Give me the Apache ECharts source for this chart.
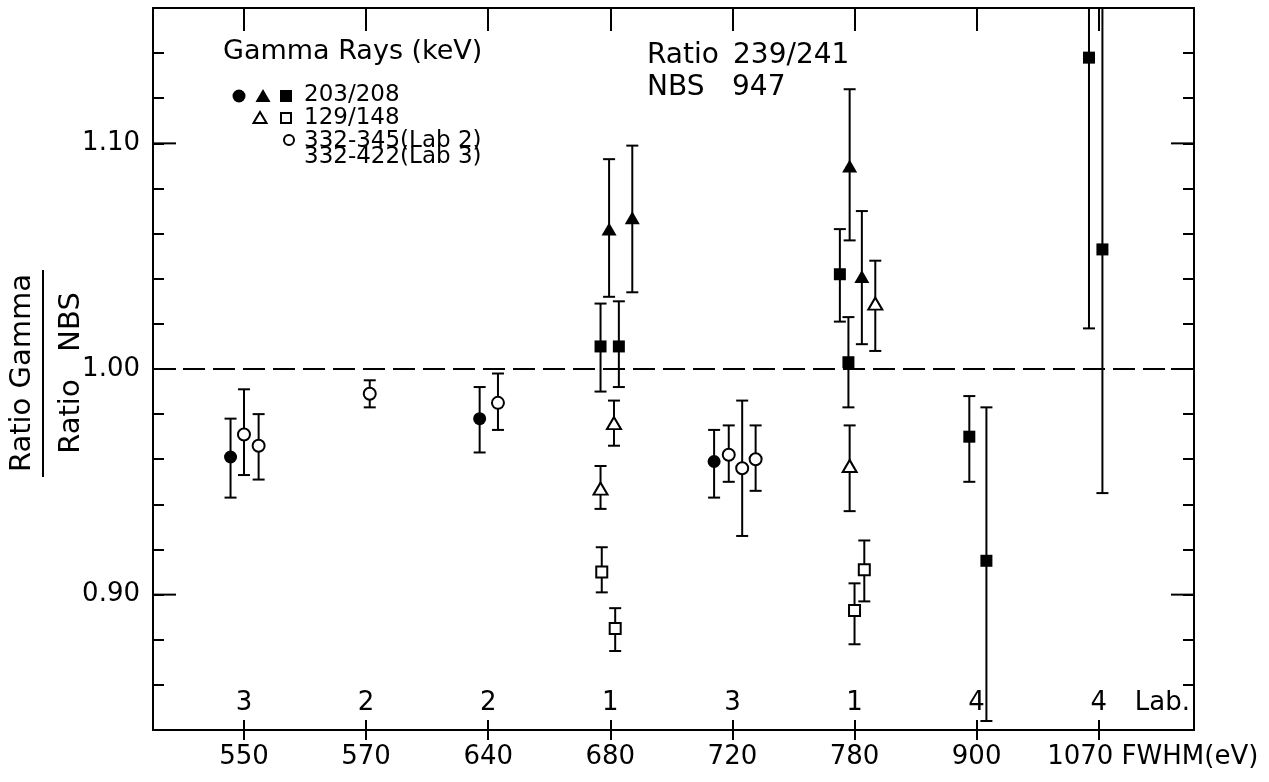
<!DOCTYPE html>
<html>
<head>
<meta charset="utf-8">
<script src="https://cdn.jsdelivr.net/npm/echarts@6/dist/echarts.min.js"></script>
<style>
  html, body { margin: 0; padding: 0; background: #fff; }
  #chart { width: 1269px; height: 782px; }
</style>
</head>
<body>
<div id="chart"></div>
<script>
// FWHM groups along the x axis and the laboratory that measured each group
const fwhm = ['550', '570', '640', '680', '720', '780', '900', '1070'];
const labs = ['3', '2', '2', '1', '3', '1', '4', '4'];
const yTickLabels = [0.90, 1.00, 1.10];
const referenceRatio = [1.00];

// Each row: [group index, offset inside the group, ratio, lower limit, upper limit]
// 203/208 keV
const filledCircle = [
  [0, -0.11, 0.961, 0.943, 0.978],
  [2, -0.07, 0.978, 0.963, 0.992],
  [4, -0.15, 0.959, 0.943, 0.973]
];
const filledTriangle = [
  [3, -0.01, 1.062, 1.032, 1.093],
  [3, 0.18, 1.067, 1.034, 1.099],
  [5, -0.04, 1.090, 1.057, 1.124],
  [5, 0.06, 1.041, 1.011, 1.070]
];
const filledSquare = [
  [3, -0.08, 1.010, 0.990, 1.029],
  [3, 0.07, 1.010, 0.992, 1.030],
  [5, -0.12, 1.042, 1.021, 1.062],
  [5, -0.05, 1.003, 0.983, 1.023],
  [6, -0.06, 0.970, 0.950, 0.988],
  [6, 0.08, 0.915, 0.844, 0.983],
  [7, -0.08, 1.138, 1.018, 1.258],
  [7, 0.03, 1.053, 0.945, 1.163]
];
// 129/148 keV
const openTriangle = [
  [3, 0.03, 0.976, 0.966, 0.986],
  [3, -0.08, 0.947, 0.938, 0.957],
  [5, 0.17, 1.029, 1.008, 1.048],
  [5, -0.04, 0.957, 0.937, 0.975]
];
const openSquare = [
  [3, -0.07, 0.910, 0.901, 0.921],
  [3, 0.04, 0.885, 0.875, 0.894],
  [5, 0.00, 0.893, 0.878, 0.905],
  [5, 0.08, 0.911, 0.897, 0.924]
];
// 332-345 keV (Lab 2), 332-422 keV (Lab 3)
const openCircle = [
  [0, 0.00, 0.971, 0.953, 0.991],
  [0, 0.12, 0.966, 0.951, 0.980],
  [1, 0.03, 0.989, 0.983, 0.995],
  [2, 0.08, 0.985, 0.973, 0.998],
  [4, -0.03, 0.962, 0.950, 0.975],
  [4, 0.08, 0.956, 0.926, 0.986],
  [4, 0.19, 0.960, 0.946, 0.975]
];

const FONT = 'DejaVu Sans';
const INK = '#000';
const X_MIN = -0.745, X_MAX = 7.78;
const Y_MIN = 0.84, Y_MAX = 1.16;
const groupTicks = fwhm.map((_, i) => i);
const line = { color: INK, width: 2 };

const chart = echarts.init(document.getElementById('chart'), null, { renderer: 'canvas' });

function errorBars(rows) {
  return {
    type: 'custom',
    silent: true,
    animation: false,
    z: 2,
    encode: { x: 0, y: [1, 2] },
    data: rows.map(r => [r[0] + r[1], r[3], r[4]]),
    renderItem(params, api) {
      const x = api.value(0);
      const lo = api.coord([x, api.value(1)]);
      const hi = api.coord([x, api.value(2)]);
      const cs = params.coordSys;
      const top = cs.y, bottom = cs.y + cs.height;
      const half = 6;
      const st = { stroke: INK, lineWidth: 2 };
      const children = [{
        type: 'line',
        shape: { x1: lo[0], y1: Math.max(hi[1], top), x2: lo[0], y2: Math.min(lo[1], bottom) },
        style: st
      }];
      if (hi[1] >= top) children.push({ type: 'line', shape: { x1: hi[0] - half, y1: hi[1], x2: hi[0] + half, y2: hi[1] }, style: st });
      if (lo[1] <= bottom) children.push({ type: 'line', shape: { x1: lo[0] - half, y1: lo[1], x2: lo[0] + half, y2: lo[1] }, style: st });
      return { type: 'group', children };
    }
  };
}

function markers(rows, symbol, size, filled) {
  return {
    type: 'scatter',
    symbol,
    symbolSize: size,
    silent: true,
    animation: false,
    z: 3,
    data: rows.map(r => [r[0] + r[1], r[2]]),
    itemStyle: filled
      ? { color: INK, borderWidth: 0, opacity: 1 }
      : { color: '#fff', borderColor: INK, borderWidth: 2, opacity: 1 }
  };
}

// Long ticks at the labelled ratios, on both vertical axes
const majorTicks = {
  type: 'custom',
  silent: true,
  animation: false,
  z: 1,
  data: yTickLabels.map(v => [X_MIN, v]),
  renderItem(params, api) {
    const cs = params.coordSys;
    const y = api.coord([api.value(0), api.value(1)])[1];
    const st = { stroke: INK, lineWidth: 2 };
    return {
      type: 'group',
      children: [
        { type: 'line', shape: { x1: cs.x, y1: y, x2: cs.x + 23, y2: y }, style: st },
        { type: 'line', shape: { x1: cs.x + cs.width - 23, y1: y, x2: cs.x + cs.width, y2: y }, style: st }
      ]
    };
  }
};

// Dashed line where the gamma ratio equals the NBS value
const referenceLine = {
  type: 'custom',
  silent: true,
  animation: false,
  z: 1,
  data: referenceRatio.map(v => [X_MIN, v]),
  renderItem(params, api) {
    const cs = params.coordSys;
    const y = api.coord([api.value(0), api.value(1)])[1];
    return {
      type: 'line',
      shape: { x1: cs.x, y1: y, x2: cs.x + cs.width, y2: y },
      style: { stroke: INK, lineWidth: 2, lineDash: [22, 8] }
    };
  }
};

// Laboratory numbers written just above the bottom axis
const labRow = {
  type: 'custom',
  silent: true,
  animation: false,
  z: 4,
  data: labs.map((l, i) => [i, Y_MIN]),
  renderItem(params, api) {
    const i = params.dataIndex;
    const p = api.coord([api.value(0), api.value(1)]);
    const y = p[1] - 27;
    const children = [{
      type: 'text',
      style: { x: p[0], y, text: labs[i], font: '26px "' + FONT + '"', fill: INK, align: 'center', verticalAlign: 'middle' }
    }];
    if (i === labs.length - 1) {
      children.push({
        type: 'text',
        style: { x: p[0] + 36, y, text: 'Lab.', font: '26px "' + FONT + '"', fill: INK, align: 'left', verticalAlign: 'middle' }
      });
    }
    return { type: 'group', children };
  }
};

function xAxisBase(extra) {
  return Object.assign({
    type: 'value', min: X_MIN, max: X_MAX,
    splitLine: { show: false },
    axisLabel: { show: false },
    axisLine: { show: false }
  }, extra);
}
function yAxisBase(extra) {
  return Object.assign({
    type: 'value', min: Y_MIN, max: Y_MAX,
    splitLine: { show: false },
    axisLabel: { show: false },
    axisLine: { show: false },
    axisTick: { show: false }
  }, extra);
}

const legendY = [95, 118, 141, 157];
const f23 = '23px "' + FONT + '"';

const option = {
  backgroundColor: '#fff',
  animation: false,
  grid: { left: 153, right: 75, top: 8, bottom: 52 },
  xAxis: [
    xAxisBase({
      position: 'bottom',
      axisLine: { show: true, onZero: false, lineStyle: line },
      axisTick: { show: true, inside: false, length: 10, lineStyle: line, customValues: groupTicks },
      axisLabel: {
        show: true,
        customValues: groupTicks,
        margin: 14,
        color: INK,
        fontFamily: FONT,
        fontSize: 26,
        formatter: v => {
          const i = Math.round(v);
          return i === fwhm.length - 1 ? '{last|' + fwhm[i] + ' FWHM(eV)}' : fwhm[i];
        },
        rich: {
          last: { padding: [0, 0, 0, 108], fontFamily: FONT, fontSize: 26, color: INK }
        }
      }
    }),
    xAxisBase({
      position: 'bottom',
      axisTick: { show: true, inside: true, length: 10, lineStyle: line, customValues: groupTicks }
    }),
    xAxisBase({
      position: 'top',
      axisLine: { show: true, onZero: false, lineStyle: line },
      axisTick: { show: true, inside: true, length: 23, lineStyle: line, customValues: groupTicks }
    })
  ],
  yAxis: [
    yAxisBase({
      position: 'left',
      interval: 0.02,
      axisLine: { show: true, onZero: false, lineStyle: line },
      axisTick: { show: true, inside: true, length: 11, lineStyle: line },
      axisLabel: {
        show: true, margin: 13,
        color: INK, fontFamily: FONT, fontSize: 26,
        formatter: v => yTickLabels.some(t => Math.abs(t - v) < 1e-6) ? v.toFixed(2) : ''
      }
    }),
    yAxisBase({
      position: 'right',
      interval: 0.02,
      axisLine: { show: true, onZero: false, lineStyle: line },
      axisTick: { show: true, inside: true, length: 11, lineStyle: line }
    })
  ],
  series: [
    referenceLine,
    majorTicks,
    errorBars(filledCircle),
    errorBars(filledTriangle),
    errorBars(filledSquare),
    errorBars(openTriangle),
    errorBars(openSquare),
    errorBars(openCircle),
    markers(filledCircle, 'circle', 13, true),
    markers(filledTriangle, 'triangle', [15, 13], true),
    markers(filledSquare, 'rect', 12, true),
    markers(openTriangle, 'triangle', [14, 12], false),
    markers(openSquare, 'rect', 11, false),
    markers(openCircle, 'circle', 12, false),
    labRow
  ],
  graphic: [
    // y axis title written as a fraction
    { type: 'text', x: 22, y: 373, rotation: Math.PI / 2,
      style: { text: 'Ratio Gamma', font: '29px "' + FONT + '"', fill: INK, align: 'center', verticalAlign: 'middle' } },
    { type: 'line', shape: { x1: 43, y1: 270, x2: 43, y2: 477 }, style: { stroke: INK, lineWidth: 2 } },
    { type: 'text', x: 71, y: 373, rotation: Math.PI / 2,
      style: { text: 'Ratio   NBS', font: '29px "' + FONT + '"', fill: INK, align: 'center', verticalAlign: 'middle' } },

    // sample description
    { type: 'text', x: 647, y: 56, style: { text: 'Ratio', font: '28px "' + FONT + '"', fill: INK, verticalAlign: 'middle' } },
    { type: 'text', x: 733, y: 56, style: { text: '239/241', font: '28px "' + FONT + '"', fill: INK, verticalAlign: 'middle' } },
    { type: 'text', x: 647, y: 88, style: { text: 'NBS', font: '28px "' + FONT + '"', fill: INK, verticalAlign: 'middle' } },
    { type: 'text', x: 732, y: 88, style: { text: '947', font: '28px "' + FONT + '"', fill: INK, verticalAlign: 'middle' } },

    // key
    { type: 'text', x: 223, y: 52, style: { text: 'Gamma Rays (keV)', font: '27px "' + FONT + '"', fill: INK, verticalAlign: 'middle' } },
    { type: 'circle', shape: { cx: 239, cy: legendY[0] + 1, r: 6.5 }, style: { fill: INK } },
    { type: 'polygon', shape: { points: [[263, legendY[0] - 6], [270.5, legendY[0] + 7], [255.5, legendY[0] + 7]] }, style: { fill: INK } },
    { type: 'rect', shape: { x: 280, y: legendY[0] - 5, width: 12, height: 12 }, style: { fill: INK } },
    { type: 'text', x: 304, y: legendY[0], style: { text: '203/208', font: f23, fill: INK, verticalAlign: 'middle' } },
    { type: 'polygon', shape: { points: [[260, legendY[1] - 6], [266.5, legendY[1] + 5], [253.5, legendY[1] + 5]] }, style: { fill: '#fff', stroke: INK, lineWidth: 2 } },
    { type: 'rect', shape: { x: 281, y: legendY[1] - 5, width: 10, height: 10 }, style: { fill: '#fff', stroke: INK, lineWidth: 2 } },
    { type: 'text', x: 304, y: legendY[1], style: { text: '129/148', font: f23, fill: INK, verticalAlign: 'middle' } },
    { type: 'circle', shape: { cx: 289, cy: legendY[2] - 1, r: 5 }, style: { fill: '#fff', stroke: INK, lineWidth: 2 } },
    { type: 'text', x: 304, y: legendY[2], style: { text: '332-345(Lab 2)', font: f23, fill: INK, verticalAlign: 'middle' } },
    { type: 'text', x: 304, y: legendY[3], style: { text: '332-422(Lab 3)', font: f23, fill: INK, verticalAlign: 'middle' } }
  ]
};

chart.setOption(option);
</script>
</body>
</html>
